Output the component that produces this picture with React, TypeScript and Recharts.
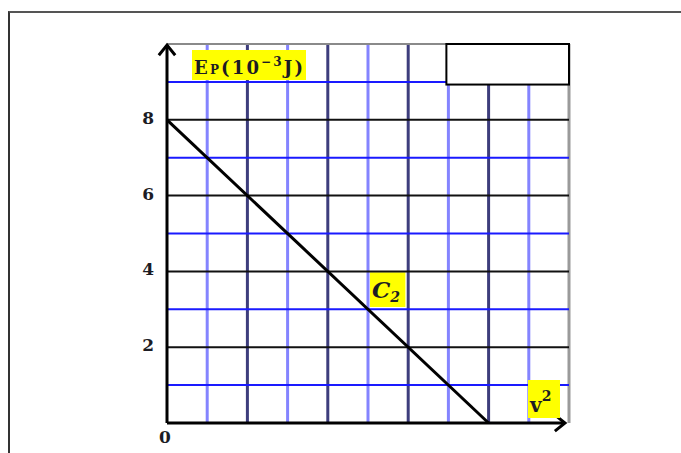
import React from 'react';
import {
  LineChart,
  Line,
  XAxis,
  YAxis,
  ReferenceLine,
  ReferenceArea,
} from 'recharts';

// v^2 (arbitrary units) and potential energy Ep (10^-3 J) for curve C2
const speedSquared = [0, 8];
const potentialEnergy = [8, 0];

// tick labels
const yTicks = [2, 4, 6, 8];
const xTicks = [0];

// grid positions (one per unit, both axes go 0..10)
const gridX = [1, 2, 3, 4, 5, 6, 7, 8, 9];
const gridY = [1, 2, 3, 4, 5, 6, 7, 8, 9];

const chartData = speedSquared.map((v2, i) => ({ v2, ep: potentialEnergy[i] }));

const LABEL_FONT = '"DejaVu Serif", serif';
const TEXT_COLOR = '#1c1c24';

// Axis with an open arrow head at its end
const ArrowAxis = (props: any) => {
  const { x1, y1, x2, y2 } = props;
  const ang = Math.atan2(y2 - y1, x2 - x1);
  const len = 13;
  const spread = 0.68;
  const ax = x2 - len * Math.cos(ang - spread);
  const ay = y2 - len * Math.sin(ang - spread);
  const bx = x2 - len * Math.cos(ang + spread);
  const by = y2 - len * Math.sin(ang + spread);
  return (
    <g>
      <line x1={x1} y1={y1} x2={x2} y2={y2} stroke="#000" strokeWidth={3} />
      <polyline
        points={`${ax},${ay} ${x2},${y2} ${bx},${by}`}
        fill="none"
        stroke="#000"
        strokeWidth={3}
        strokeLinejoin="miter"
      />
    </g>
  );
};

// empty framed box in the top-right corner (drawn between the segment's two corners)
const BlankBox = (props: any) => {
  const { x1, y1, x2, y2 } = props;
  return (
    <rect
      x={Math.min(x1, x2)}
      y={Math.min(y1, y2)}
      width={Math.abs(x2 - x1)}
      height={Math.abs(y2 - y1)}
      fill="#fff"
      stroke="#000"
      strokeWidth={2}
    />
  );
};

const YTick = (props: any) => {
  const { x, y, payload } = props;
  return (
    <text x={x} y={y} dy={4} textAnchor="end" fill={TEXT_COLOR}
      fontFamily={LABEL_FONT} fontWeight="bold" fontSize={17}>
      {payload.value}
    </text>
  );
};

const XTick = (props: any) => {
  const { x, y, payload } = props;
  return (
    <text x={x - 2} y={y} dy={12} textAnchor="middle" fill={TEXT_COLOR}
      fontFamily={LABEL_FONT} fontWeight="bold" fontSize={17}>
      {payload.value}
    </text>
  );
};

const EpLabel = (props: any) => {
  const vb = props.viewBox;
  const x = vb.x + vb.width + 25;
  const y = vb.y + 6;
  return (
    <g>
      <rect x={x} y={y} width={114} height={30} fill="#ffff00" />
      <text x={x + 2} y={y + 24} fill={TEXT_COLOR} fontFamily={LABEL_FONT}
        fontWeight="bold" fontSize={18} textLength={109} lengthAdjust="spacing">
        <tspan>E</tspan>
        <tspan fontSize={12}>P</tspan>
        <tspan>(10</tspan>
        <tspan fontSize={12} dy={-8}>−3</tspan>
        <tspan dy={8}>J)</tspan>
      </text>
    </g>
  );
};

const V2Label = (props: any) => {
  const vb = props.viewBox;
  const x = vb.x + vb.width - 41;
  const y = vb.y - 43;
  return (
    <g>
      <rect x={x} y={y} width={32} height={38} fill="#ffff00" />
      <text x={x + 2} y={y + 32} fill={TEXT_COLOR} fontFamily={LABEL_FONT}
        fontWeight="bold" fontSize={20}>
        <tspan>v</tspan>
        <tspan fontSize={14} dy={-11}>2</tspan>
      </text>
    </g>
  );
};

const CurveLabel = (props: any) => {
  const vb = props.viewBox;
  return (
    <text x={vb.x + 2} y={vb.y + 26} fill={TEXT_COLOR} fontFamily={LABEL_FONT}
      fontStyle="italic" fontWeight="bold" fontSize={23}>
      <tspan>C</tspan>
      <tspan fontSize={14} dy={4}>2</tspan>
    </text>
  );
};

export default function App() {
  return (
    <div style={{ position: 'absolute', left: 0, top: 0, width: 681, height: 453, background: '#fff' }}>
      <div
        style={{
          position: 'absolute',
          left: 8,
          top: 11,
          right: 0,
          bottom: 0,
          borderTop: '2px solid #555',
          borderLeft: '2px solid #333',
        }}
      />
      <div style={{ position: 'absolute', left: 0, top: 0 }}>
        <LineChart
          width={681}
          height={453}
          data={chartData}
          margin={{ top: 44, right: 112, bottom: 0, left: 0 }}
        >
          <XAxis
            type="number"
            dataKey="v2"
            domain={[0, 10]}
            ticks={xTicks}
            axisLine={false}
            tickLine={false}
            tickSize={0}
            tickMargin={8}
            height={30}
            tick={<XTick />}
            label={<V2Label />}
          />
          <YAxis
            type="number"
            domain={[0, 10]}
            ticks={yTicks}
            axisLine={false}
            tickLine={false}
            tickSize={0}
            tickMargin={13}
            width={167}
            tick={<YTick />}
            label={<EpLabel />}
          />
          {gridX.map(v => (
            <ReferenceLine
              key={`gx-${v}`}
              x={v}
              stroke={v % 2 === 0 ? '#3d3d7c' : '#8484ff'}
              strokeWidth={3}
            />
          ))}
          <ReferenceLine x={10} stroke="#9a9a9a" strokeWidth={3} />
          {gridY.map(v => (
            <ReferenceLine
              key={`gy-${v}`}
              y={v}
              stroke={v % 2 === 0 ? '#111' : '#1a1aff'}
              strokeWidth={2}
            />
          ))}
          <ReferenceLine y={10} stroke="#8a8a8a" strokeWidth={2} />
          <ReferenceLine
            segment={[{ x: 6.95, y: 10 }, { x: 10, y: 8.93 }]}
            shape={<BlankBox />}
            ifOverflow="visible"
          />
          <ReferenceArea
            x1={5.05}
            x2={5.93}
            y1={3.06}
            y2={3.98}
            fill="#ffff00"
            fillOpacity={1}
            label={<CurveLabel />}
          />
          <Line
            dataKey="ep"
            type="linear"
            stroke="#000"
            strokeWidth={3}
            dot={false}
            isAnimationActive={false}
          />
          <ReferenceLine
            segment={[{ x: 0, y: 0 }, { x: 9.9, y: 0 }]}
            shape={<ArrowAxis />}
            ifOverflow="visible"
          />
          <ReferenceLine
            segment={[{ x: 0, y: 0 }, { x: 0, y: 9.97 }]}
            shape={<ArrowAxis />}
            ifOverflow="visible"
          />
        </LineChart>
      </div>
    </div>
  );
}
